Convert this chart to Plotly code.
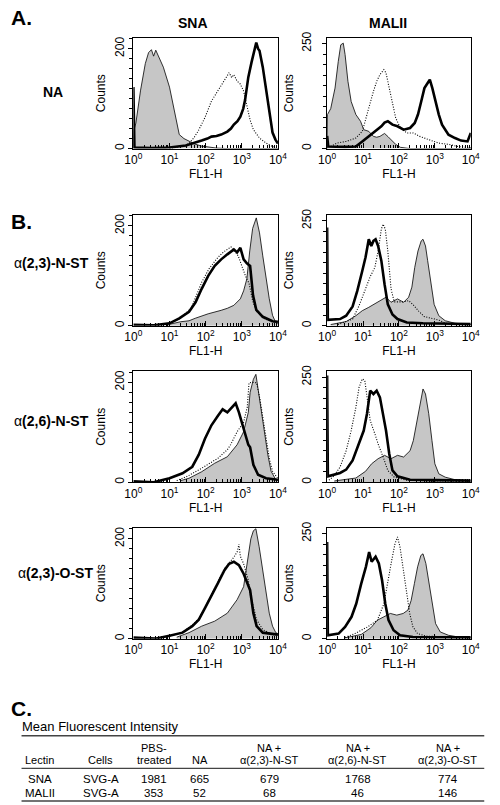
import plotly.graph_objects as go

W, H = 500, 805
FONT = "Liberation Sans, Arial, Helvetica, sans-serif"

# ---------------- data: (log10 FL1-H, counts) ----------------
# Panel A, SNA (NA)
sna_na_fill = [(0.0, 0), (0.02, 38), (0.07, 51), (0.2, 117), (0.33, 170), (0.42, 192), (0.5, 198), (0.56, 185),
               (0.62, 197), (0.74, 179), (0.83, 163), (1.0, 123), (1.14, 77), (1.27, 28), (1.4, 20), (1.54, 15),
               (1.7, 9), (1.89, 5), (2.3, 1), (2.6, 0), (4.0, 0)]
sna_na_thick = [(0.0, 123), (0.03, 2), (0.5, 1), (1.0, 2), (1.45, 6), (1.7, 11), (1.89, 16), (2.05, 20), (2.16, 24),
                (2.3, 25), (2.43, 28), (2.6, 34), (2.7, 40), (2.78, 48), (2.88, 55), (2.96, 64), (3.04, 80),
                (3.09, 97), (3.18, 143), (3.27, 173), (3.34, 195), (3.4, 212), (3.45, 200), (3.49, 196), (3.58, 163),
                (3.67, 117), (3.76, 71), (3.85, 32), (3.93, 18), (3.98, 12), (4.0, 10)]
sna_na_dot = [(1.0, 0), (1.2, 2), (1.4, 5), (1.54, 10), (1.68, 22), (1.8, 36), (1.98, 62), (2.16, 95), (2.34, 115),
              (2.52, 135), (2.6, 145), (2.65, 152), (2.72, 142), (2.78, 148), (2.87, 135), (2.96, 129), (3.05, 115),
              (3.14, 84), (3.23, 57), (3.32, 38), (3.49, 21), (3.67, 11), (3.85, 4), (4.0, 1)]

# Panel A, MALII (NA)
mal_na_fill = [(0.0, 0), (0.01, 81), (0.1, 95), (0.22, 144), (0.31, 207), (0.38, 247), (0.45, 251), (0.5, 224),
               (0.58, 160), (0.67, 112), (0.8, 81), (0.93, 65), (1.02, 45), (1.16, 41), (1.29, 29), (1.38, 27),
               (1.47, 29), (1.6, 36), (1.7, 28), (1.78, 21), (1.91, 10), (2.04, 3), (2.3, 0), (4.0, 0)]
mal_na_thick = [(0.0, 30), (0.03, 5), (0.5, 4), (0.8, 5), (0.98, 17), (1.16, 29), (1.33, 41), (1.51, 53), (1.6, 62),
                (1.69, 65), (1.82, 57), (1.96, 53), (2.13, 45), (2.31, 49), (2.44, 61), (2.53, 81), (2.62, 112),
                (2.71, 144), (2.8, 156), (2.86, 164), (2.93, 144), (3.02, 112), (3.11, 81), (3.2, 57), (3.38, 33),
                (3.56, 25), (3.73, 19), (3.91, 17), (3.99, 37), (4.0, 37)]
mal_na_dot = [(0.1, 5), (0.27, 13), (0.53, 17), (0.8, 25), (0.98, 41), (1.11, 81), (1.2, 112), (1.29, 136),
              (1.38, 160), (1.47, 176), (1.58, 188), (1.64, 180), (1.73, 144), (1.82, 105), (1.91, 73), (2.04, 49),
              (2.22, 37), (2.4, 37), (2.58, 29), (2.84, 21), (3.11, 13), (3.38, 10), (3.64, 5), (4.0, 2)]

# Panel B, a(2,3)-N-ST
sna_23n_fill = [(0.9, 0), (1.0, 3), (1.3, 8), (1.54, 10), (1.71, 15), (2.07, 24), (2.43, 31), (2.6, 35), (2.78, 41),
                (2.96, 54), (3.05, 70), (3.14, 94), (3.22, 150), (3.3, 195), (3.4, 216), (3.45, 200), (3.49, 186),
                (3.58, 140), (3.67, 94), (3.76, 54), (3.85, 21), (3.94, 6), (4.0, 5)]
sna_23n_thick = [(0.0, 2), (0.56, 1), (1.0, 5), (1.27, 15), (1.54, 28), (1.72, 47), (1.89, 74), (2.07, 100),
                 (2.25, 120), (2.43, 133), (2.6, 143), (2.69, 149), (2.78, 153), (2.87, 147), (2.96, 156),
                 (3.05, 133), (3.14, 125), (3.23, 120), (3.31, 61), (3.4, 32), (3.58, 18), (3.85, 9), (4.0, 8)]
sna_23n_dot = [(1.0, 4), (1.3, 15), (1.6, 35), (1.89, 87), (2.1, 115), (2.34, 137), (2.5, 148), (2.6, 153),
               (2.7, 158), (2.8, 150), (2.9, 140), (3.0, 120), (3.1, 100), (3.2, 85), (3.3, 50), (3.4, 30),
               (3.6, 15), (3.85, 8), (4.0, 5)]
mal_23n_fill = [(0.1, 3), (0.53, 10), (0.8, 24), (0.98, 36), (1.16, 44), (1.33, 52), (1.51, 60), (1.64, 68),
                (1.78, 56), (1.96, 64), (2.13, 56), (2.27, 68), (2.36, 92), (2.44, 139), (2.53, 178), (2.62, 202),
                (2.67, 206), (2.74, 190), (2.8, 155), (2.89, 99), (2.98, 51), (3.11, 24), (3.29, 12), (3.56, 6),
                (3.91, 3), (4.0, 3)]
mal_23n_thick = [(0.0, 234), (0.02, 14), (0.36, 16), (0.53, 24), (0.71, 46), (0.84, 83), (0.98, 131), (1.07, 163),
                 (1.16, 206), (1.23, 190), (1.29, 202), (1.35, 206), (1.42, 190), (1.51, 155), (1.6, 99),
                 (1.69, 51), (1.82, 27), (1.96, 16), (2.22, 8), (2.67, 6), (3.5, 5), (4.0, 4)]
mal_23n_dot = [(0.3, 3), (0.71, 16), (0.89, 48), (1.07, 88), (1.2, 117), (1.33, 139), (1.42, 178), (1.51, 230),
               (1.56, 242), (1.62, 230), (1.69, 178), (1.78, 88), (1.87, 57), (2.0, 57), (2.13, 57), (2.27, 60),
               (2.4, 50), (2.55, 35), (2.7, 22), (2.9, 18), (3.1, 14), (3.3, 6), (3.6, 3), (4.0, 2)]

# Panel B, a(2,6)-N-ST
sna_26n_fill = [(1.3, 3), (1.54, 8), (1.89, 21), (2.25, 38), (2.6, 51), (2.87, 75), (3.05, 101), (3.18, 140),
                (3.23, 180), (3.32, 206), (3.39, 216), (3.45, 186), (3.54, 147), (3.63, 101), (3.72, 55),
                (3.81, 22), (3.94, 5), (4.0, 4)]
sna_26n_thick = [(0.0, 2), (0.56, 0), (1.0, 8), (1.36, 18), (1.63, 31), (1.81, 55), (1.98, 87), (2.16, 114),
                 (2.34, 133), (2.47, 146), (2.6, 140), (2.74, 150), (2.83, 158), (2.92, 140), (3.05, 107),
                 (3.18, 75), (3.23, 70), (3.32, 35), (3.45, 15), (3.67, 8), (4.0, 5)]
sna_26n_dot = [(1.2, 3), (1.5, 12), (1.89, 28), (2.34, 48), (2.6, 65), (2.69, 75), (2.87, 101), (3.05, 120),
               (3.15, 150), (3.2, 199), (3.3, 200), (3.41, 199), (3.5, 167), (3.63, 107), (3.76, 48), (3.85, 22),
               (3.98, 8), (4.0, 7)]
mal_26n_fill = [(0.2, 3), (0.8, 10), (1.07, 26), (1.24, 44), (1.42, 56), (1.6, 64), (1.78, 56), (1.96, 64),
                (2.13, 60), (2.31, 75), (2.4, 99), (2.49, 139), (2.58, 186), (2.67, 222), (2.74, 210), (2.83, 163),
                (2.92, 99), (3.0, 44), (3.11, 20), (3.29, 12), (3.56, 6), (4.0, 3)]
mal_26n_thick = [(0.0, 254), (0.02, 14), (0.36, 22), (0.53, 30), (0.71, 52), (0.89, 91), (1.02, 123), (1.11, 163),
                 (1.2, 218), (1.29, 210), (1.38, 218), (1.47, 202), (1.56, 163), (1.64, 123), (1.73, 68),
                 (1.82, 28), (1.96, 14), (2.31, 6), (3.0, 5), (4.0, 4)]
mal_26n_dot = [(0.05, 5), (0.18, 14), (0.36, 36), (0.53, 75), (0.67, 123), (0.8, 178), (0.89, 226), (0.98, 246),
               (1.05, 242), (1.11, 202), (1.2, 147), (1.33, 115), (1.42, 91), (1.56, 60), (1.69, 28), (1.87, 12),
               (2.2, 5), (3.0, 3), (4.0, 2)]

# Panel B, a(2,3)-O-ST
sna_23o_fill = [(1.2, 3), (1.54, 12), (1.89, 25), (2.25, 35), (2.6, 51), (2.87, 78), (3.05, 104), (3.18, 163),
                (3.25, 200), (3.32, 216), (3.39, 220), (3.48, 184), (3.58, 137), (3.67, 91), (3.76, 51), (3.85, 25),
                (3.94, 12), (4.0, 10)]
sna_23o_thick = [(0.0, 2), (0.6, 0), (1.0, 6), (1.36, 12), (1.63, 25), (1.81, 38), (1.98, 61), (2.16, 85),
                 (2.34, 111), (2.52, 137), (2.65, 150), (2.78, 154), (2.92, 147), (3.05, 130), (3.18, 104),
                 (3.23, 97), (3.32, 51), (3.41, 25), (3.58, 12), (3.85, 9), (4.0, 8)]
sna_23o_dot = [(1.0, 5), (1.36, 13), (1.63, 27), (1.81, 40), (1.98, 62), (2.16, 88), (2.34, 112), (2.52, 140),
               (2.65, 152), (2.78, 163), (2.88, 175), (2.92, 189), (2.96, 165), (3.05, 150), (3.18, 117),
               (3.23, 90), (3.32, 64), (3.41, 38), (3.58, 18), (3.85, 8), (4.0, 7)]
mal_23o_fill = [(0.5, 2), (0.95, 10), (1.22, 26), (1.4, 44), (1.58, 52), (1.76, 60), (1.94, 56), (2.12, 60),
                (2.25, 68), (2.34, 91), (2.43, 131), (2.52, 171), (2.61, 198), (2.67, 202), (2.75, 179), (2.84, 131),
                (2.93, 76), (3.02, 36), (3.15, 16), (3.38, 8), (3.65, 4), (4.0, 2)]
mal_23o_thick = [(0.0, 230), (0.02, 8), (0.32, 12), (0.5, 28), (0.68, 52), (0.81, 83), (0.95, 131), (1.08, 171),
                 (1.17, 206), (1.24, 183), (1.35, 195), (1.44, 179), (1.53, 139), (1.62, 83), (1.71, 44),
                 (1.85, 20), (2.03, 8), (2.39, 4), (4.0, 3)]
mal_23o_dot = [(0.5, 3), (0.77, 12), (1.13, 28), (1.4, 44), (1.58, 83), (1.71, 139), (1.8, 187), (1.89, 226),
               (1.96, 242), (2.03, 218), (2.12, 163), (2.21, 107), (2.3, 60), (2.39, 28), (2.52, 12), (2.75, 6),
               (4.0, 3)]

lectins = ["SNA", "MALII"]
row_labels = ["NA", "α<b>(2,3)-N-ST</b>", "α<b>(2,6)-N-ST</b>", "α<b>(2,3)-O-ST</b>"]
y_max = {"SNA": 222, "MALII": 264}
y_label = {"SNA": 200, "MALII": 250}
y_minor = {"SNA": 20, "MALII": 25}
x_tickvals = [1, 10, 100, 1000, 10000]
x_ticktext = ["10<sup>0</sup>", "10<sup>1</sup>", "10<sup>2</sup>", "10<sup>3</sup>", "10<sup>4</sup>"]

# table
table_title = "Mean Fluorescent Intensity"
table_head1 = ["", "", "PBS-", "", "NA +", "NA +", "NA +"]
table_head2 = ["Lectin", "Cells", "treated", "NA", "α(2,3)-N-ST", "α(2,6)-N-ST", "α(2,3)-O-ST"]
table_rows = [["SNA", "SVG-A", "1981", "665", "679", "1768", "774"],
              ["MALII", "SVG-A", "353", "52", "68", "46", "146"]]

grid = [
    [(sna_na_fill, sna_na_thick, sna_na_dot), (mal_na_fill, mal_na_thick, mal_na_dot)],
    [(sna_23n_fill, sna_23n_thick, sna_23n_dot), (mal_23n_fill, mal_23n_thick, mal_23n_dot)],
    [(sna_26n_fill, sna_26n_thick, sna_26n_dot), (mal_26n_fill, mal_26n_thick, mal_26n_dot)],
    [(sna_23o_fill, sna_23o_thick, sna_23o_dot), (mal_23o_fill, mal_23o_thick, mal_23o_dot)],
]

# ---------------- layout geometry (pixels) ----------------
col_px = [(129, 279), (330, 479)]
row_px = [(32, 144), (211, 323), (369, 481), (527, 639)]


def px_x(p):
    return p / W


def px_y(p):
    return 1 - p / H


minor_x = [m * 10 ** d for d in range(4) for m in range(2, 10)]

fig = go.Figure()
layout = {}
n = 0
for r, row in enumerate(grid):
    for c, (fill, thick, dot) in enumerate(row):
        n += 1
        xa = "x" if n == 1 else f"x{n}"
        ya = "y" if n == 1 else f"y{n}"
        lec = lectins[c]
        for curve, kind in ((fill, "fill"), (dot, "dot"), (thick, "thick")):
            xs = [10 ** l for l, _ in curve]
            ys = [v for _, v in curve]
            if kind == "fill":
                fig.add_trace(go.Scatter(x=xs, y=ys, xaxis=xa, yaxis=ya, mode="lines", fill="tozeroy",
                                         fillcolor="#c6c6c6", line=dict(color="black", width=0.8),
                                         showlegend=False, hoverinfo="skip"))
            elif kind == "dot":
                fig.add_trace(go.Scatter(x=xs, y=ys, xaxis=xa, yaxis=ya, mode="lines",
                                         line=dict(color="black", width=1.1, dash="1px,1.6px"),
                                         showlegend=False, hoverinfo="skip"))
            else:
                fig.add_trace(go.Scatter(x=xs, y=ys, xaxis=xa, yaxis=ya, mode="lines",
                                         line=dict(color="black", width=2.6),
                                         showlegend=False, hoverinfo="skip"))
        x0, x1 = col_px[c]
        y0, y1 = row_px[r]
        layout["xaxis" if n == 1 else f"xaxis{n}"] = dict(
            domain=[px_x(x0), px_x(x1)], anchor=ya, type="log", range=[0, 4],
            tickmode="array", tickvals=x_tickvals, ticktext=x_ticktext,
            ticks="inside", ticklen=5, tickwidth=1, tickcolor="black",
            minor=dict(tickmode="array", tickvals=minor_x, ticks="inside", ticklen=3, tickcolor="black"),
            showline=True, mirror=True, linecolor="black", linewidth=1.2, showgrid=False, zeroline=False,
            tickfont=dict(family=FONT, size=12, color="black"),
            title=dict(text="FL1-H", font=dict(family=FONT, size=12, color="black"), standoff=2),
        )
        layout["yaxis" if n == 1 else f"yaxis{n}"] = dict(
            domain=[px_y(y1), px_y(y0)], anchor=xa, range=[0, y_max[lec]],
            tickmode="array", tickvals=[0, y_label[lec]], tickangle=-90,
            ticks="outside", ticklen=4, tickcolor="black",
            minor=dict(dtick=y_minor[lec], ticks="outside", ticklen=3, tickcolor="black"),
            showline=True, mirror=True, linecolor="black", linewidth=1, showgrid=False, zeroline=False,
            tickfont=dict(family=FONT, size=12, color="black"),
            ticklabelstandoff=0 if c == 0 else 6,
            title=dict(text="Counts", font=dict(family=FONT, size=12, color="black"), standoff=4),
        )

annotations = []


def ann(text, x, y, size, xanchor="center", yanchor="middle", bold=False):
    annotations.append(dict(text=f"<b>{text}</b>" if bold else text, x=px_x(x), y=px_y(y),
                            xref="paper", yref="paper", showarrow=False, xanchor=xanchor, yanchor=yanchor,
                            font=dict(family=FONT, size=size, color="black")))


ann("A.", 0, 12, 21, xanchor="left", bold=True)
ann("B.", 0, 218, 21, xanchor="left", bold=True)
ann("C.", 0, 710, 21, xanchor="left", bold=True)
ann(lectins[0], 191, 17, 14, bold=True)
ann(lectins[1], 393, 17, 14, bold=True)
row_label_pos = [(46, 87), (44, 260), (44, 419), (48, 573)]
for lab, (x, y) in zip(row_labels, row_label_pos):
    annotations.append(dict(text=lab if lab.startswith("α") else f"<b>{lab}</b>", x=px_x(x), y=px_y(y),
                            xref="paper", yref="paper", showarrow=False, xanchor="center", yanchor="middle",
                            font=dict(family=FONT, size=14, color="black")))

# table
ann(table_title, 11, 728, 13, xanchor="left")
col_centers = [32, 95, 150, 198, 270, 362, 455]
for i, xc in enumerate(col_centers):
    if table_head1[i]:
        ann(table_head1[i], xc, 749, 11)
    ann(table_head2[i], xc, 762, 11)
    for j, yr in enumerate([781, 795]):
        ann(table_rows[j][i], xc, yr, 11.5)

shapes = []
for yl in (737, 770, 803):
    shapes.append(dict(type="line", xref="paper", yref="paper", x0=px_x(13), x1=px_x(493),
                       y0=px_y(yl), y1=px_y(yl), line=dict(color="#444", width=1.4)))

fig.update_layout(width=W, height=H, margin=dict(l=0, r=0, t=0, b=0), paper_bgcolor="white",
                  plot_bgcolor="white", annotations=annotations, shapes=shapes, **layout)
fig.write_html("out.html", config={"displayModeBar": False},
               post_script="document.body.style.margin='0px';")
